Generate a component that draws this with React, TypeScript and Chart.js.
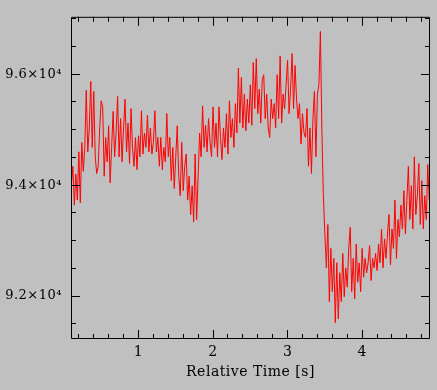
import React, { useEffect, useRef } from 'react';
import { Chart, registerables } from 'chart.js';

Chart.register(...registerables);

// Sampling of the time axis (seconds)
const T_START = 0.1;
const T_STEP = 0.02;

// Measured signal values, one per sample
const VALUES: number[] = [
  93990, 94340, 93640, 94200, 93730, 94600, 93680, 94770, 94250, 94680,
  95710, 94600, 95030, 95870, 94680, 95690, 94510, 94210, 94340, 95030,
  95520, 95410, 94160, 94860, 94420, 95070, 94040, 94680, 95330, 94510,
  94940, 95600, 94510, 95200, 94420, 95030, 95550, 94600, 95120, 94390,
  95380, 94680, 94340, 94860, 94280, 94890, 94510, 95340, 94560, 94940,
  94680, 95260, 94600, 95030, 94560, 94770, 95340, 94600, 94860, 94340,
  94860, 94280, 94680, 94420, 95290, 94510, 94860, 94080, 94680, 93940,
  94510, 95070, 94160, 93810, 94770, 93900, 94340, 94560, 93730, 94160,
  93470, 93990, 93340, 94560, 93380, 94160, 94940, 94510, 95430, 94680,
  95080, 94600, 95200, 94770, 94510, 95410, 94680, 95120, 94510, 95410,
  94860, 94460, 95030, 94680, 95290, 94560, 95520, 94860, 95200, 94680,
  95470, 94940, 96110, 95120, 95940, 95030, 95640, 94980, 95550, 95120,
  95810, 95080, 96210, 95380, 96280, 95290, 95730, 95120, 95900, 95990,
  95200, 95640, 95030, 94860, 95550, 95200, 95470, 95030, 95990, 95200,
  96330, 95120, 95640, 95380, 95810, 96250, 95290, 95730, 96370, 95380,
  96160, 95550, 95200, 95470, 94740, 95290, 94940, 94860, 95380, 94340,
  95030, 94210, 95200, 95690, 94510, 95640, 95810, 96770, 94980, 93810,
  93120, 92510, 93290, 91900, 92860, 92080, 92680, 91520, 92600, 91590,
  92420, 91900, 92770, 91990, 92510, 92160, 92860, 93240, 92080, 92680,
  91950, 92940, 92250, 92600, 92080, 92860, 92340, 92680, 92420, 92600,
  92910, 92280, 92680, 92510, 92770, 92460, 92940, 92600, 93210, 92510,
  93030, 92680, 93120, 93470, 92560, 93210, 92860, 93730, 92680, 93380,
  93070, 93640, 93210, 93900, 93120, 93730, 94340, 93380, 93990, 93210,
  94510, 93470, 93810, 94390, 93290, 94080, 93210, 93810, 93380, 94370,
  93730,
];

const X_MIN = 0.095;
const X_MAX = 4.91;
const Y_MIN = 91226;
const Y_MAX = 97035;

const X_MAJOR = [1, 2, 3, 4];
const X_MINOR_STEP = 0.2;
const Y_MAJOR = [92000, 94000, 96000];
const Y_MINOR_STEP = 500;

const X_TITLE = 'Relative Time [s]';
const FONT = 'DejaVu Serif';

const framePlugin = {
  id: 'frame',
  beforeDraw(chart: any) {
    const { ctx, width, height } = chart;
    ctx.save();
    ctx.fillStyle = '#c0c0c0';
    ctx.fillRect(0, 0, width, height);
    ctx.restore();
    ctx.letterSpacing = '0.5px';
  },
  afterDatasetsDraw(chart: any) {
    const { ctx, chartArea, scales } = chart;
    const { left, right, top, bottom } = chartArea;
    const xs = scales.x;
    const ys = scales.y;
    ctx.save();
    ctx.strokeStyle = '#000';
    ctx.lineWidth = 1;
    ctx.beginPath();
    ctx.rect(left + 0.5, top + 0.5, right - left - 1, bottom - top - 1);
    ctx.stroke();
    ctx.beginPath();
    for (let k = 1; k * X_MINOR_STEP < X_MAX; k++) {
      const v = Math.round(k * X_MINOR_STEP * 100) / 100;
      if (v <= X_MIN) continue;
      const major = X_MAJOR.some((m) => Math.abs(m - v) < 1e-6);
      const len = major ? 9 : 5;
      const px = Math.floor(xs.getPixelForValue(v)) + 0.5;
      ctx.moveTo(px, bottom);
      ctx.lineTo(px, bottom - len);
      ctx.moveTo(px, top);
      ctx.lineTo(px, top + len);
    }
    for (let v = Math.ceil(Y_MIN / Y_MINOR_STEP) * Y_MINOR_STEP; v < Y_MAX; v += Y_MINOR_STEP) {
      const major = Y_MAJOR.includes(v);
      const len = major ? 9 : 5;
      const py = Math.floor(ys.getPixelForValue(v)) + 0.5;
      ctx.moveTo(left, py);
      ctx.lineTo(left + len, py);
      ctx.moveTo(right, py);
      ctx.lineTo(right - len, py);
    }
    ctx.stroke();
    ctx.restore();
  },
  afterDraw(chart: any) {
    chart.ctx.letterSpacing = '0px';
  },
};

export default function App() {
  const ref = useRef<HTMLCanvasElement>(null);
  useEffect(() => {
    document.body.style.margin = '0';
    const points = VALUES.map((v, i) => ({ x: T_START + i * T_STEP, y: v }));
    const chart = new Chart(ref.current!, {
      type: 'line',
      data: {
        datasets: [
          {
            data: points,
            borderColor: '#ff0000',
            borderWidth: 1,
            pointRadius: 0,
            tension: 0,
            fill: false,
          },
        ],
      },
      options: {
        responsive: false,
        animation: false,
        devicePixelRatio: 1,
        layout: { padding: { top: 5, right: 7, left: 0, bottom: 0 } },
        plugins: { legend: { display: false }, tooltip: { enabled: false } },
        scales: {
          x: {
            type: 'linear',
            min: X_MIN,
            max: X_MAX,
            grid: { display: false, drawTicks: false },
            border: { display: false },
            afterFit: (s: any) => {
              s.height = 51;
            },
            afterBuildTicks: (s: any) => {
              s.ticks = X_MAJOR.map((v) => ({ value: v }));
            },
            ticks: {
              color: '#000',
              font: { family: FONT, size: 14 },
              padding: 5,
              maxRotation: 0,
              autoSkip: false,
              callback: (v: any) => String(v),
            },
            title: {
              display: true,
              text: X_TITLE,
              color: '#000',
              font: { family: FONT, size: 14 },
              padding: { top: 0, bottom: 9 },
            },
          },
          y: {
            type: 'linear',
            min: Y_MIN,
            max: Y_MAX,
            grid: { display: false, drawTicks: false },
            border: { display: false },
            afterFit: (s: any) => {
              s.width = 71;
            },
            afterBuildTicks: (s: any) => {
              s.ticks = Y_MAJOR.map((v) => ({ value: v }));
            },
            ticks: {
              color: '#000',
              font: { family: FONT, size: 13 },
              padding: 9,
              autoSkip: false,
              callback: (v: any) => (Number(v) / 10000).toFixed(1) + '×10⁴',
            },
          },
        },
      },
      plugins: [framePlugin],
    } as any);
    return () => chart.destroy();
  }, []);
  return (
    <div style={{ position: 'fixed', left: 0, top: 0, width: 437, height: 390, background: '#c0c0c0' }}>
      <canvas ref={ref} width={437} height={390} style={{ display: 'block' }} />
    </div>
  );
}
